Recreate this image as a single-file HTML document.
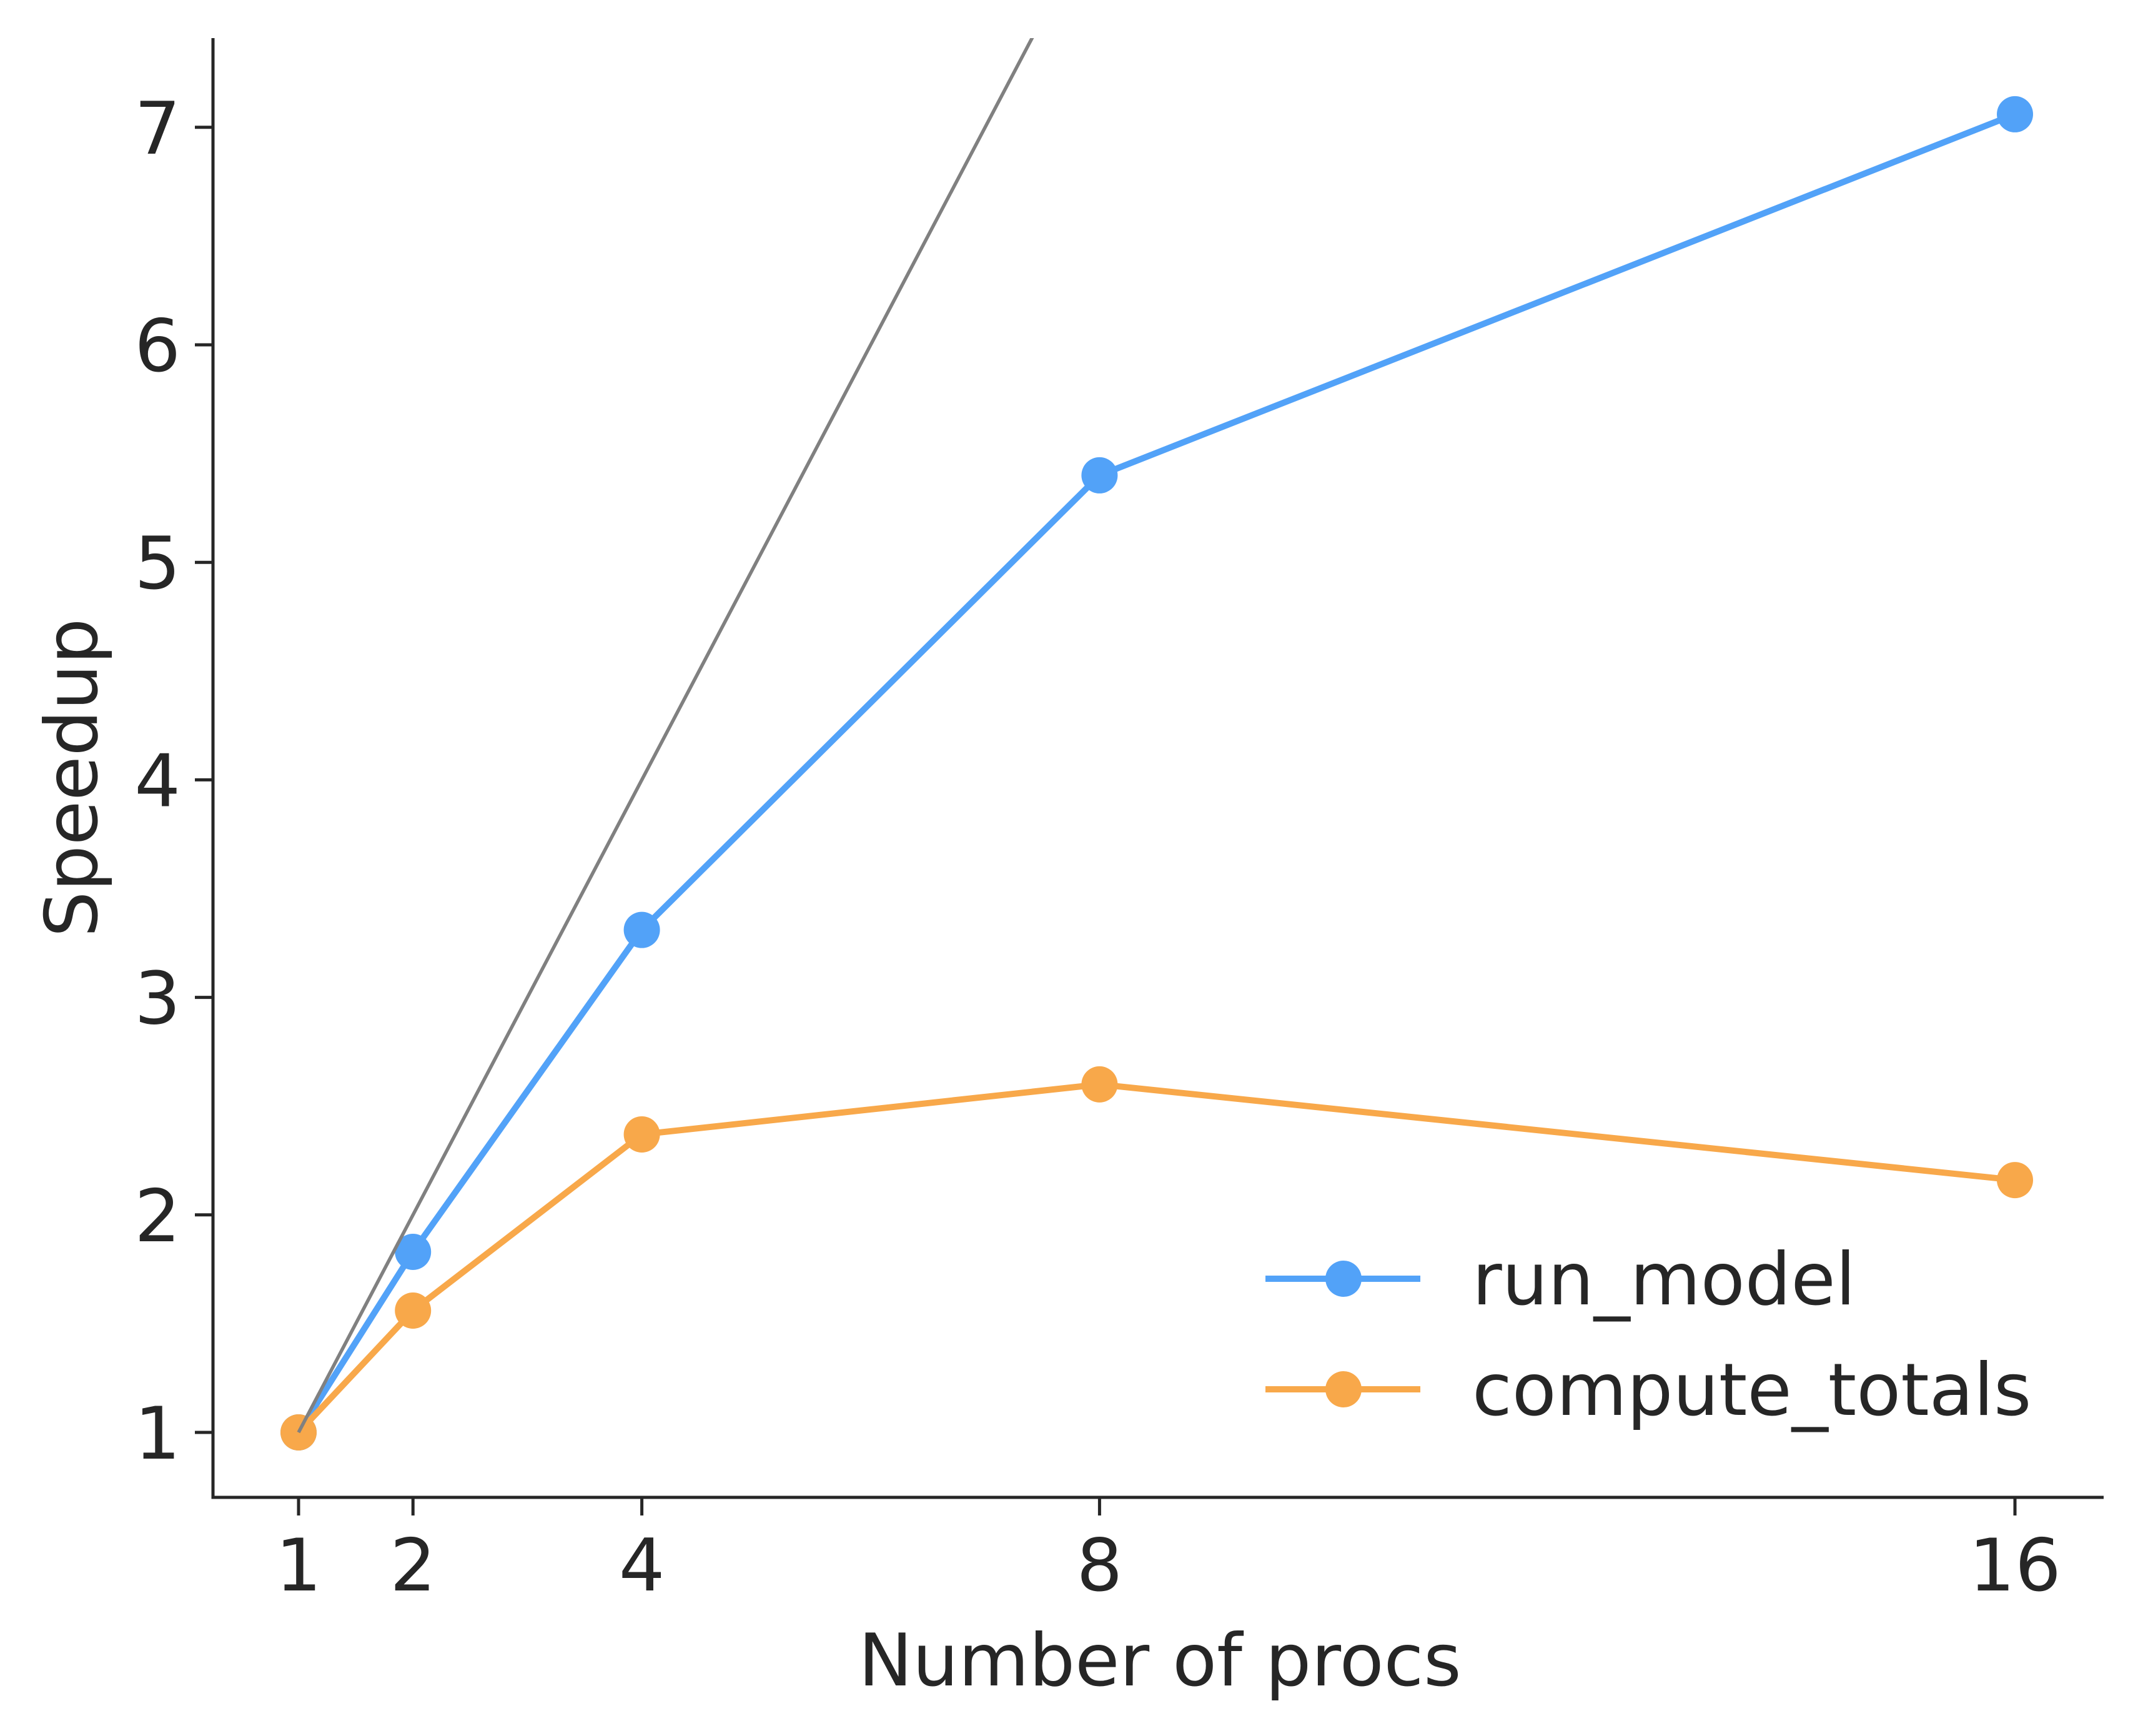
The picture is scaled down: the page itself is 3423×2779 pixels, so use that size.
<!DOCTYPE html>
<html><head><meta charset="utf-8"><style>
html,body{margin:0;padding:0;background:#fff}
svg{display:block}
text{font-family:"DejaVu Sans","Liberation Sans",sans-serif;fill:#262626}
</style></head><body>
<svg id="chart" width="3423" height="2779" viewBox="0 0 3423 2779" xmlns="http://www.w3.org/2000/svg">
<g id="axes"></g>
<g id="marks"></g>
<g id="legend"></g>
</svg>
<script>
const procs = [1, 2, 4, 8, 16];
const runModel = [1, 1.83, 3.31, 5.40, 7.06];
const computeTotals = [1, 1.56, 2.37, 2.60, 2.16];
const yTicks = [1, 2, 3, 4, 5, 6, 7];
const xTickLabels = ["1", "2", "4", "8", "16"];
const seriesNames = ["run_model", "compute_totals"];

const NS = "http://www.w3.org/2000/svg";
const L = 341, R = 3368, T = 61, B = 2397;
function X(v){ return 478 + (v - 1) * 183.2; }
function Y(v){ return 2293 - (v - 1) * 348.2; }
function mk(tag, attrs, parent){
  const e = document.createElementNS(NS, tag);
  for (const k in attrs) e.setAttribute(k, attrs[k]);
  parent.appendChild(e); return e;
}
const axes = document.getElementById('axes');
const marks = document.getElementById('marks');
const legend = document.getElementById('legend');

const defs = mk('defs', {}, document.getElementById('chart'));
const cp = mk('clipPath', {id:'clip'}, defs);
mk('rect', {x:L, y:T, width:R-L, height:B-T}, cp);
marks.setAttribute('clip-path', 'url(#clip)');

let sp = mk('line', {x1:L, y1:T, x2:L, y2:B+2.5, stroke:'#262626', 'stroke-width':5}, axes);


sp = mk('line', {x1:L-2.5, y1:B, x2:R, y2:B, stroke:'#262626', 'stroke-width':5}, axes);



yTicks.forEach(v => {
  const t = mk('line', {x1:L-29, y1:Y(v), x2:L, y2:Y(v), stroke:'#262626', 'stroke-width':5}, axes);
  
  
  const lb = mk('text', {x:L-52, y:Y(v)+42, 'text-anchor':'end', 'font-size':116}, axes);
  lb.textContent = String(v);
  
  
});
procs.forEach((p, i) => {
  const t = mk('line', {x1:X(p), y1:B, x2:X(p), y2:B+29, stroke:'#262626', 'stroke-width':5}, axes);
  
  
  const lb = mk('text', {x:X(p), y:2546, 'text-anchor':'middle', 'font-size':116}, axes);
  lb.textContent = xTickLabels[i];
  
  
});
let xl = mk('text', {x:1857, y:2698, 'text-anchor':'middle', 'font-size':116}, axes);
xl.textContent = 'Number of procs';


let yl = mk('text', {x:0, y:0, 'text-anchor':'middle', 'font-size':116, transform:'translate(155,1245) rotate(-90)'}, axes);
yl.textContent = 'Speedup';



let ideal = mk('line', {x1:X(1), y1:Y(1), x2:X(20), y2:Y(20), stroke:'#808080', 'stroke-width':5.5}, marks);



function series(vals, color, name){
  const g = mk('g', {}, marks);
  
  
  const pl = mk('polyline', {points: procs.map((p,i)=>X(p)+','+Y(vals[i])).join(' '), fill:'none', stroke:color, 'stroke-width':10, 'stroke-linejoin':'round'}, g);
  
  
  procs.forEach((p,i) => {
    const c = mk('circle', {cx:X(p), cy:Y(vals[i]), r:29, fill:color}, g);
    
    
  });
}
series(runModel, '#52a2f8', 'run-model');
series(computeTotals, '#f8a84a', 'compute-totals');
marks.appendChild(ideal);

const legColors = ['#52a2f8', '#f8a84a'];
const legY = [2047, 2224];
seriesNames.forEach((n, i) => {
  const g = mk('g', {}, legend);
  
  
  mk('line', {x1:2026, y1:legY[i], x2:2274, y2:legY[i], stroke:legColors[i], 'stroke-width':10}, g);
  mk('circle', {cx:2151, cy:legY[i], r:29, fill:legColors[i]}, g);
  const t = mk('text', {x:2357, y:legY[i]+41, 'font-size':116}, g);
  t.textContent = n;
});
</script>
</body></html>
